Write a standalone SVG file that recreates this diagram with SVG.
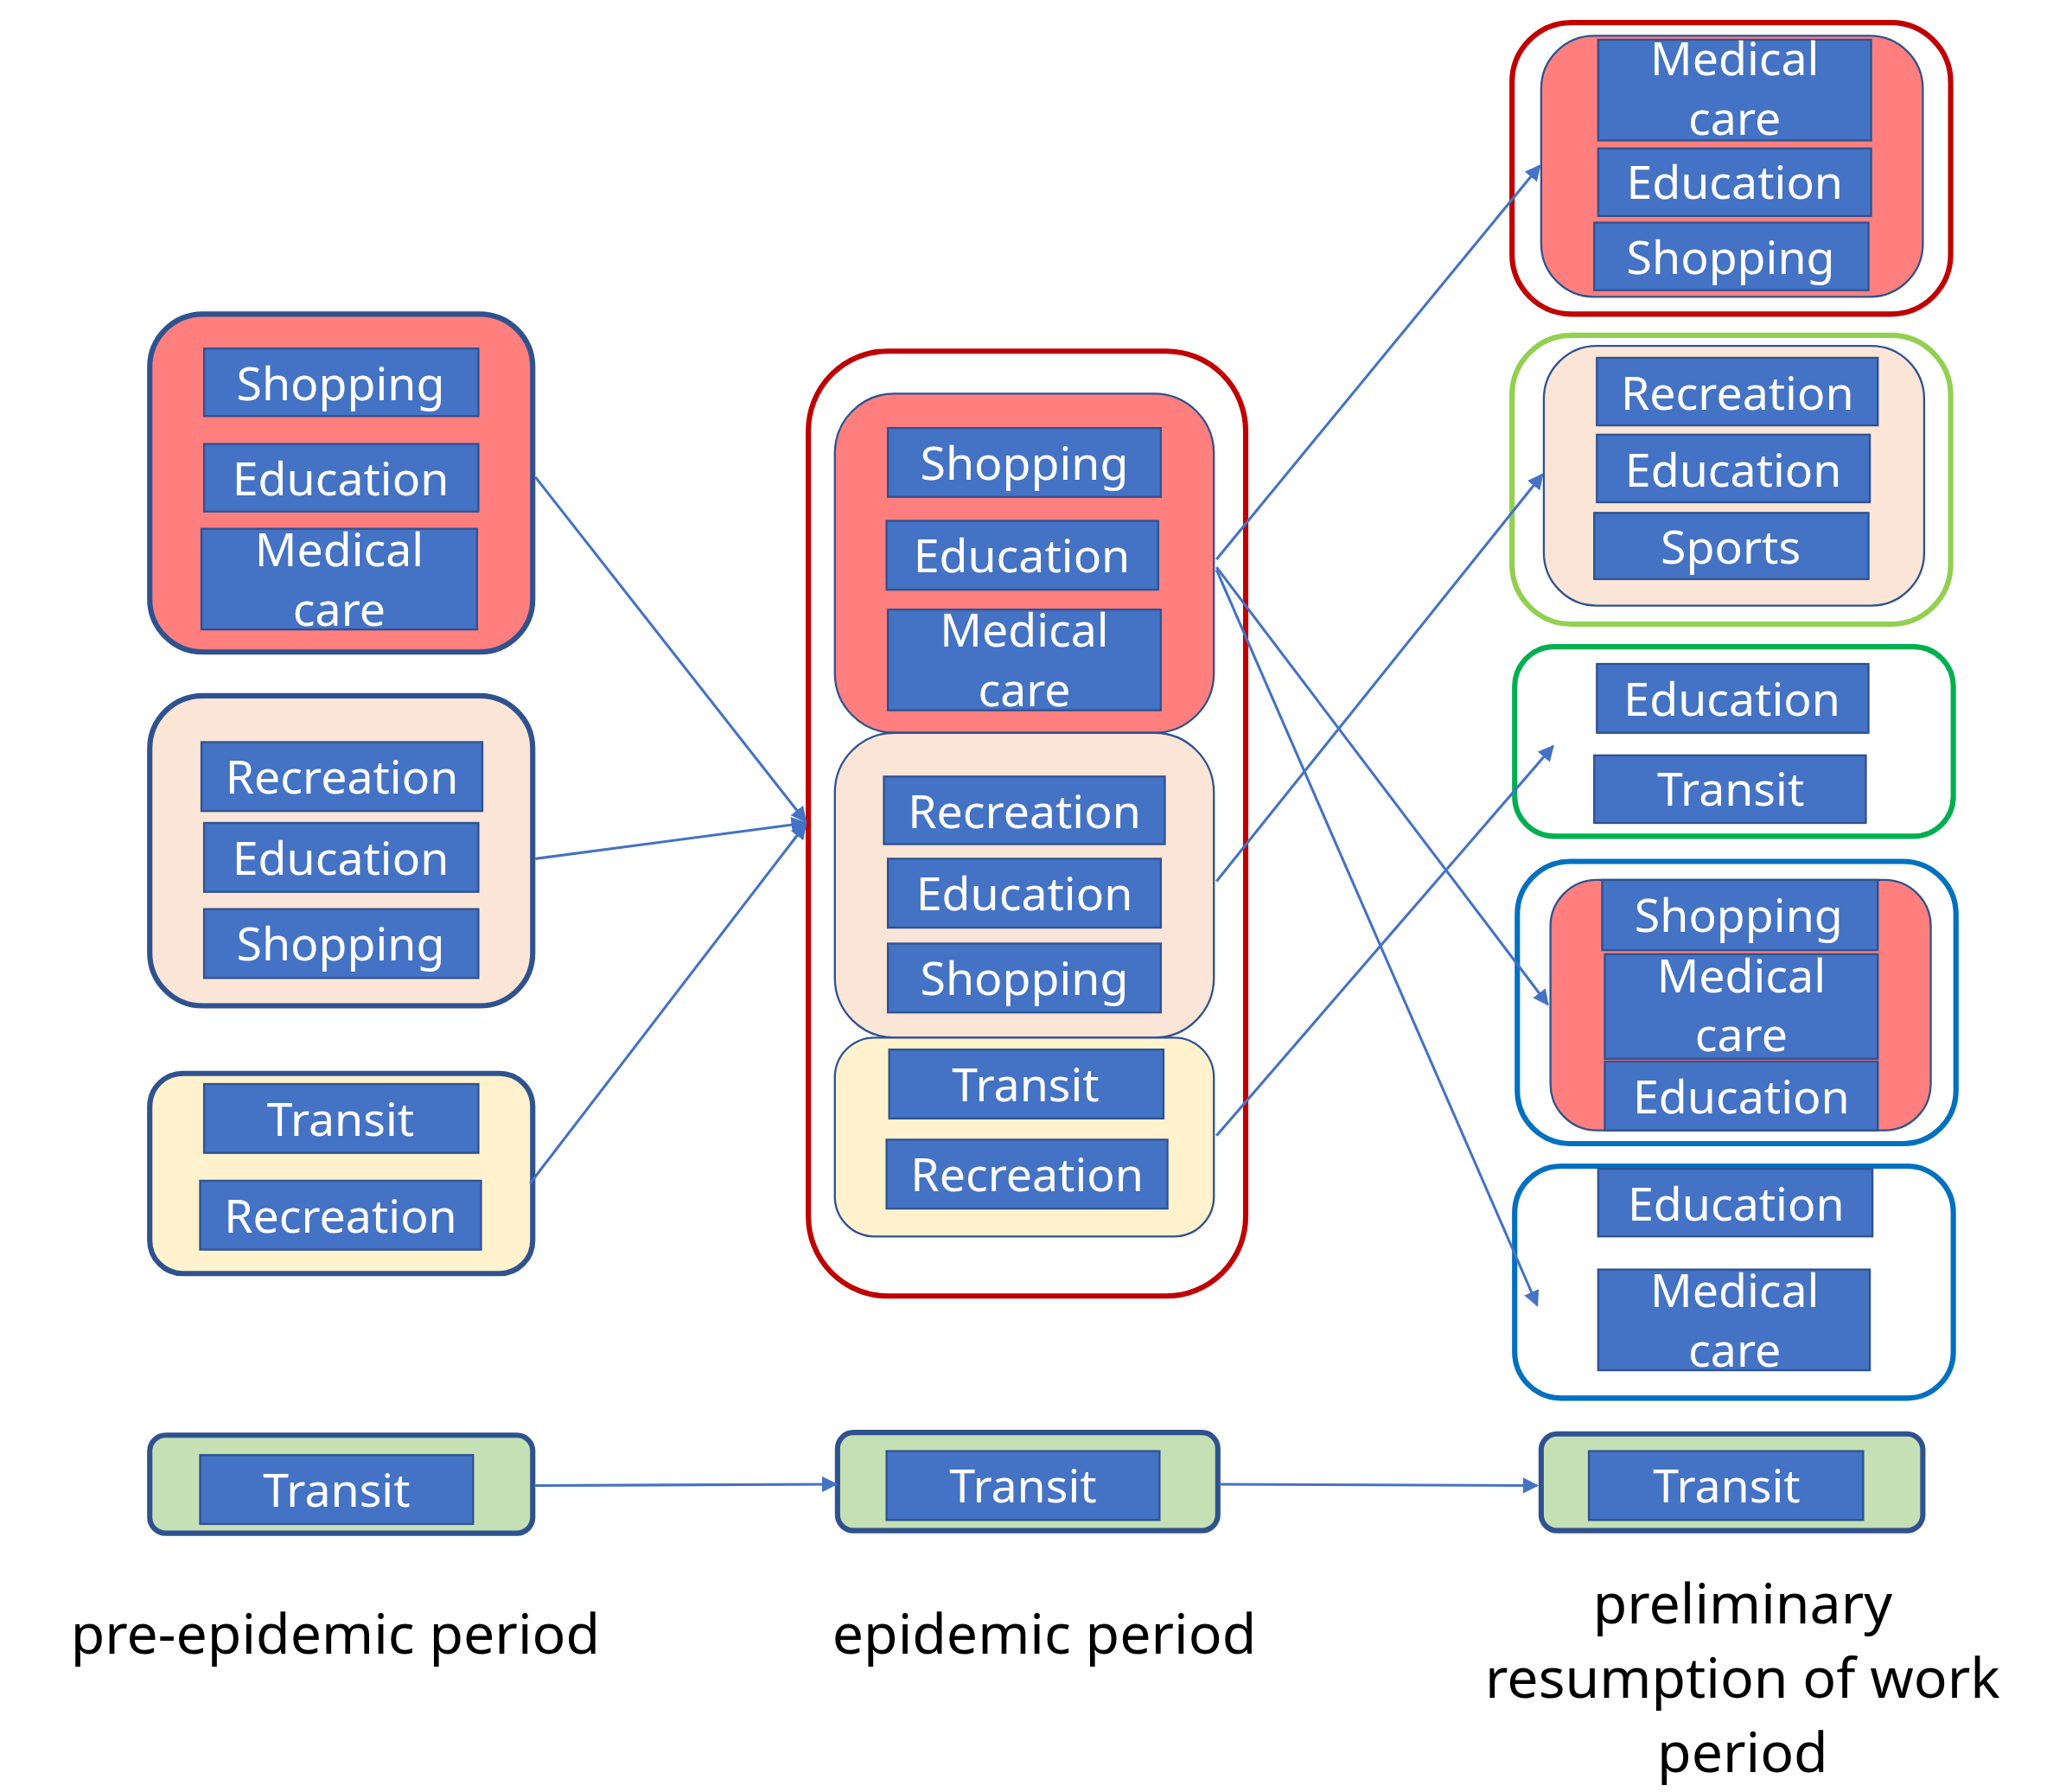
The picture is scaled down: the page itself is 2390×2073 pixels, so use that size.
<svg xmlns="http://www.w3.org/2000/svg" width="2390" height="2073" viewBox="0 0 2390 2073">
<defs>
<style>
.b{fill:#4472C4;stroke:#2F528F;stroke-width:1.5}
.t{fill:#fff;font-family:"Noto Sans","Open Sans",sans-serif;font-size:35px;text-anchor:middle}
.cap{fill:#000;font-family:"Noto Sans","Open Sans",sans-serif;font-size:42px;text-anchor:middle}
.red{fill:#FF7F7F}.peach{fill:#FBE5D6}.yel{fill:#FFF2CC}.grn{fill:#C5E0B4}
.thick{stroke:#2F528F;stroke-width:4}
.thin{stroke:#2F528F;stroke-width:1.5}
.out{fill:#fff;stroke-width:4}
.c{stroke:#4472C4;stroke-width:2;fill:none;marker-end:url(#a)}
</style>
<marker id="a" viewBox="0 0 10 10" refX="9" refY="5" markerWidth="6" markerHeight="6" orient="auto"><path d="M0,0L10,5L0,10z" fill="#4472C4"/></marker>
</defs>
<rect width="2390" height="2073" fill="#fff"/>
<g transform="scale(1.533)">
<g id="pre-red"><rect class="red thick" x="113" y="237" width="289" height="255" rx="40"/>
<rect class="b" x="154" y="263" width="207" height="51"/><text class="t" x="257" y="302">Shopping</text>
<rect class="b" x="154" y="335" width="207" height="51"/><text class="t" x="257" y="374">Education</text>
<rect class="b" x="152" y="399" width="208" height="76"/><text class="t" x="256" y="427">Medical</text><text class="t" x="256" y="472">care</text></g>
<g id="pre-peach"><rect class="peach thick" x="113" y="525" width="289" height="234" rx="40"/>
<rect class="b" x="152" y="560" width="212" height="52"/><text class="t" x="258" y="599">Recreation</text>
<rect class="b" x="154" y="621" width="207" height="52"/><text class="t" x="257" y="660">Education</text>
<rect class="b" x="154" y="686" width="207" height="52"/><text class="t" x="257" y="725">Shopping</text></g>
<g id="pre-yellow"><rect class="yel thick" x="113" y="810" width="289" height="151" rx="25"/>
<rect class="b" x="154" y="818" width="207" height="52"/><text class="t" x="257" y="857">Transit</text>
<rect class="b" x="151" y="891" width="212" height="52"/><text class="t" x="257" y="930">Recreation</text></g>
<g id="pre-green"><rect class="grn thick" x="113" y="1083" width="289" height="74" rx="12"/>
<rect class="b" x="151" y="1098" width="206" height="52"/><text class="t" x="254" y="1137">Transit</text></g>

<g id="epi"><rect class="out" stroke="#C00000" x="610" y="265" width="330" height="713" rx="60"/>
<rect class="red thin" x="630" y="297" width="286" height="256" rx="45"/>
<rect class="b" x="670" y="323" width="206" height="52"/><text class="t" x="773" y="362">Shopping</text>
<rect class="b" x="669" y="393" width="205" height="52"/><text class="t" x="771" y="432">Education</text>
<rect class="b" x="670" y="460" width="206" height="76"/><text class="t" x="773" y="488">Medical</text><text class="t" x="773" y="533">care</text>
<rect class="peach thin" x="630" y="553" width="286" height="230" rx="45"/>
<rect class="b" x="667" y="586" width="212" height="51"/><text class="t" x="773" y="625">Recreation</text>
<rect class="b" x="670" y="648" width="206" height="52"/><text class="t" x="773" y="687">Education</text>
<rect class="b" x="670" y="712" width="206" height="52"/><text class="t" x="773" y="751">Shopping</text>
<rect class="yel thin" x="630" y="783" width="286" height="150" rx="30"/>
<rect class="b" x="671" y="792" width="207" height="52"/><text class="t" x="774" y="831">Transit</text>
<rect class="b" x="669" y="860" width="212" height="52"/><text class="t" x="775" y="899">Recreation</text></g>
<g id="epi-green"><rect class="grn thick" x="632" y="1081" width="287" height="74" rx="12"/>
<rect class="b" x="669" y="1095" width="206" height="52"/><text class="t" x="772" y="1134">Transit</text></g>

<g id="r1"><rect class="out" stroke="#C00000" x="1141" y="17" width="331" height="220" rx="45"/>
<rect class="red thin" x="1163" y="27" width="288" height="197" rx="40"/>
<rect class="b" x="1206" y="30" width="206" height="76"/><text class="t" x="1309" y="57">Medical</text><text class="t" x="1309" y="102">care</text>
<rect class="b" x="1206" y="112" width="206" height="51"/><text class="t" x="1309" y="150">Education</text>
<rect class="b" x="1203" y="168" width="207" height="51"/><text class="t" x="1306" y="207">Shopping</text></g>
<g id="r2"><rect class="out" stroke="#92D050" x="1141" y="253" width="331" height="218" rx="45"/>
<rect class="peach thin" x="1165" y="261" width="287" height="196" rx="40"/>
<rect class="b" x="1205" y="270" width="212" height="51"/><text class="t" x="1311" y="309">Recreation</text>
<rect class="b" x="1205" y="328" width="206" height="51"/><text class="t" x="1308" y="367">Education</text>
<rect class="b" x="1203" y="387" width="207" height="50"/><text class="t" x="1306" y="425">Sports</text></g>
<g id="r3"><rect class="out" stroke="#00B050" x="1143" y="488" width="331" height="143" rx="30"/>
<rect class="b" x="1205" y="501" width="205" height="52"/><text class="t" x="1307" y="540">Education</text>
<rect class="b" x="1203" y="570" width="205" height="51"/><text class="t" x="1306" y="608">Transit</text></g>
<g id="r4"><rect class="out" stroke="#0070C0" x="1145" y="650" width="331" height="213" rx="40"/>
<rect class="red thin" x="1170" y="664" width="287" height="189" rx="35"/>
<rect class="b" x="1209" y="664" width="208" height="53"/><text class="t" x="1312" y="703">Shopping</text>
<rect class="b" x="1211" y="720" width="206" height="79"/><text class="t" x="1314" y="749">Medical</text><text class="t" x="1314" y="793">care</text>
<rect class="b" x="1211" y="801" width="206" height="52"/><text class="t" x="1314" y="840">Education</text></g>
<g id="r5"><rect class="out" stroke="#0070C0" x="1143" y="880" width="331" height="175" rx="35"/>
<rect class="b" x="1206" y="882" width="207" height="51"/><text class="t" x="1310" y="921">Education</text>
<rect class="b" x="1206" y="958" width="205" height="76"/><text class="t" x="1309" y="986">Medical</text><text class="t" x="1309" y="1031">care</text></g>
<g id="r-green"><rect class="grn thick" x="1163" y="1082" width="288" height="73" rx="12"/>
<rect class="b" x="1199" y="1095" width="207" height="52"/><text class="t" x="1303" y="1134">Transit</text></g>

<g id="connectors">
<line class="c" x1="404" y1="360" x2="608" y2="620"/>
<line class="c" x1="404" y1="648" x2="608" y2="621"/>
<line class="c" x1="400" y1="893" x2="608" y2="622"/>
<line class="c" x1="404" y1="1121" x2="631" y2="1120"/>
<line class="c" x1="920" y1="1120" x2="1160" y2="1121"/>
<line class="c" x1="918" y1="422" x2="1162" y2="125"/>
<line class="c" x1="918" y1="665" x2="1164" y2="358"/>
<line class="c" x1="918" y1="857" x2="1172" y2="563"/>
<line class="c" x1="918" y1="428" x2="1168" y2="758"/>
<line class="c" x1="918" y1="430" x2="1160" y2="985"/>
</g>
<g id="labels">
<text class="cap" x="253" y="1248">pre-epidemic period</text>
<text class="cap" x="788" y="1248">epidemic period</text>
<text class="cap" x="1315" y="1225">preliminary</text>
<text class="cap" x="1315" y="1281">resumption of work</text>
<text class="cap" x="1315" y="1337">period</text>
</g>
</g>
</svg>
